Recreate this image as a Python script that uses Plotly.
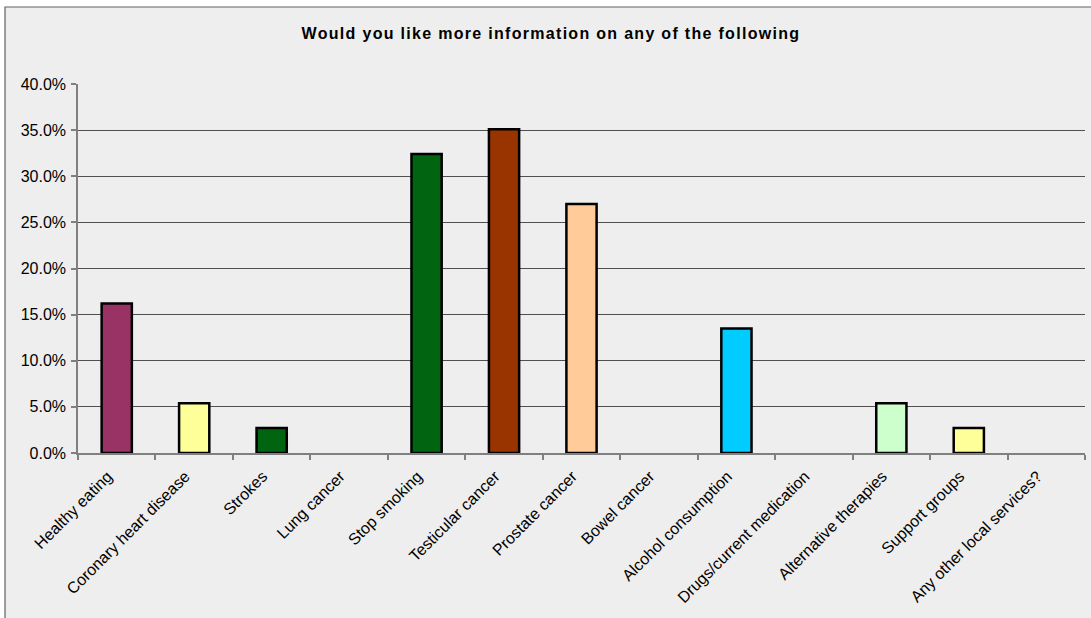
import plotly.graph_objects as go

# Survey topics and the share of respondents asking for more information
categories = [
    "Healthy eating", "Coronary heart disease", "Strokes", "Lung cancer",
    "Stop smoking", "Testicular cancer", "Prostate cancer", "Bowel cancer",
    "Alcohol consumption", "Drugs/current medication", "Alternative therapies",
    "Support groups", "Any other local services?",
]
shares = [0.162, 0.054, 0.027, 0.0, 0.324, 0.351, 0.270, 0.0, 0.135, 0.0, 0.054, 0.027, 0.0]
bar_colors = [
    "#993366", "#FFFF99", "#006411", "#FFFFFF", "#006411", "#993300", "#FFCC99",
    "#FFFFFF", "#00CCFF", "#FFFFFF", "#CCFFCC", "#FFFF99", "#FFFFFF",
]
y_ticks = [0.0, 0.05, 0.10, 0.15, 0.20, 0.25, 0.30, 0.35, 0.40]

W, H = 1091, 618
ML, MR, MT, MB = 78, 6, 84, 165
PW, PH = W - ML - MR, H - MT - MB

# Empty categories get no outline so nothing is drawn for them
outline_widths = [2.5 if v > 0 else 0 for v in shares]

fig = go.Figure()
fig.add_trace(go.Bar(
    x=categories,
    y=shares,
    marker=dict(color=bar_colors, line=dict(color="#000000", width=outline_widths)),
    width=0.39,
    hoverinfo="x+y",
))

# Grey chart frame drawn behind everything (paper coords of the plot area)
fx0 = (5 - ML) / PW
fx1 = (W + 2 - ML) / PW
fy1 = (H - 7 - MB) / PH
fy0 = -(MB + 2) / PH
fig.add_shape(type="rect", xref="paper", yref="paper",
              x0=fx0, x1=fx1, y0=fy0, y1=fy1, layer="below",
              fillcolor="#EEEEEE", line=dict(color="#606060", width=1.2))

fig.update_layout(
    width=W, height=H,
    margin=dict(l=ML, r=MR, t=MT, b=MB, autoexpand=False),
    paper_bgcolor="#FFFFFF",
    plot_bgcolor="rgba(0,0,0,0)",
    showlegend=False,
    font=dict(family="Liberation Sans, Arial, sans-serif", color="#000000"),
    title=dict(
        text='<span style="letter-spacing:1.3px"><b>Would you like more information on any of the following</b></span>',
        x=(551) / W, xanchor="center",
        y=1 - 33 / H, yanchor="middle",
        font=dict(size=16, family="Liberation Sans, Arial, sans-serif", color="#000000"),
    ),
    bargap=0.61,
)

fig.update_xaxes(
    type="category",
    tickangle=-45,
    tickson="boundaries",
    ticks="outside", ticklen=5, tickcolor="#808080", tickwidth=1.5,
    showline=True, linecolor="#808080", linewidth=1.5,
    showgrid=False,
    tickfont=dict(size=16, family="Liberation Sans, Arial, sans-serif", color="#000000"),
    ticklabelshift=-9,
    ticklabelstandoff=6,
    range=[-0.5, len(categories) - 0.5],
    fixedrange=True,
)
fig.update_yaxes(
    range=[0, 0.4],
    tickvals=y_ticks,
    tickformat=".1%",
    ticks="outside", ticklen=5, tickcolor="#808080", tickwidth=1.5,
    showline=True, linecolor="#808080", linewidth=1.5,
    showgrid=True, gridcolor="#505050", gridwidth=1,
    zeroline=False,
    tickfont=dict(size=16, family="Liberation Sans, Arial, sans-serif", color="#000000"),
    ticklabelstandoff=2,
    fixedrange=True,
)

fig.write_html("out.html")
